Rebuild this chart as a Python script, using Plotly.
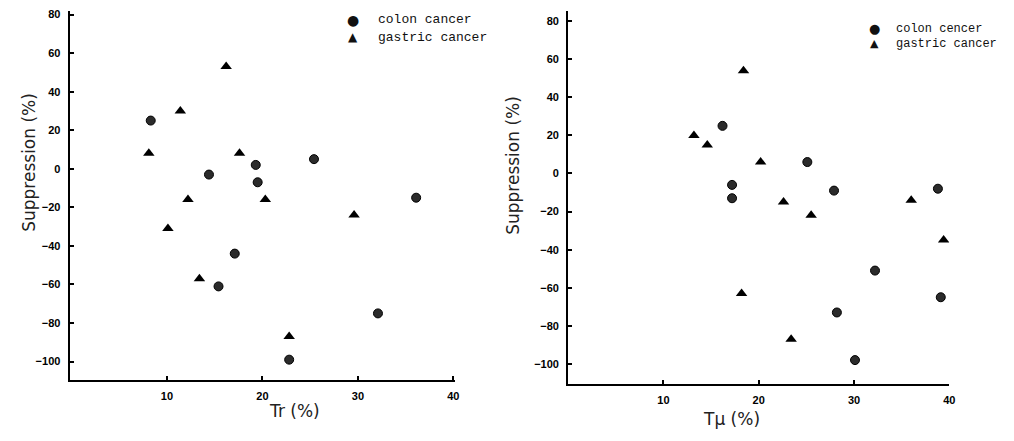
import plotly.graph_objects as go

# ---- data ----
# Left panel: Tr (%)
tr_colon_x = [8.3, 14.4, 19.3, 19.5, 25.4, 36.1, 17.1, 15.4, 32.1, 22.8]
tr_colon_y = [25, -3, 2, -7, 5, -15, -44, -61, -75, -99]
tr_gastric_x = [16.2, 11.4, 8.1, 17.6, 12.2, 20.3, 29.6, 10.1, 13.4, 22.8]
tr_gastric_y = [53, 30, 8, 8, -16, -16, -24, -31, -57, -87]

# Right panel: Tμ (%)
tm_colon_x = [16.2, 25.1, 17.2, 17.2, 27.9, 38.8, 32.2, 39.1, 28.2, 30.1]
tm_colon_y = [25, 6, -6, -13, -9, -8, -51, -65, -73, -98]
tm_gastric_x = [18.4, 13.2, 14.6, 20.2, 22.6, 25.5, 36.0, 39.4, 18.2, 23.4]
tm_gastric_y = [54, 20, 15, 6, -15, -22, -14, -35, -63, -87]

y_ticks = [80, 60, 40, 20, 0, -20, -40, -60, -80, -100]
x_ticks = [10, 20, 30, 40]

left_names = ["colon cancer", "gastric cancer"]
right_names = ["colon cencer", "gastric cancer"]
y_title = "Suppression (%)"
left_x_title = "Tr (%)"
right_x_title = "Tμ (%)"

W, H = 1014, 441

circle = dict(symbol="circle", size=9, color="#2b2b2b", line=dict(color="#000", width=1))
tri = dict(symbol="triangle-up", size=10, color="#000", line=dict(color="#000", width=0))

fig = go.Figure()
fig.add_trace(go.Scatter(x=tr_colon_x, y=tr_colon_y, mode="markers", marker=circle,
                         name=left_names[0], xaxis="x", yaxis="y"))
fig.add_trace(go.Scatter(x=tr_gastric_x, y=tr_gastric_y, mode="markers", marker=tri,
                         name=left_names[1], xaxis="x", yaxis="y"))
fig.add_trace(go.Scatter(x=tm_colon_x, y=tm_colon_y, mode="markers", marker=circle,
                         name=right_names[0], xaxis="x2", yaxis="y2"))
fig.add_trace(go.Scatter(x=tm_gastric_x, y=tm_gastric_y, mode="markers", marker=tri,
                         name=right_names[1], xaxis="x2", yaxis="y2"))

tickfont = dict(family="Liberation Sans", size=11, color="#000", weight="bold")
axis_common = dict(showgrid=False, zeroline=False, showline=True, linecolor="#000", linewidth=2,
                   ticks="inside", ticklen=4, tickwidth=1.5, tickcolor="#000",
                   tickfont=tickfont, ticklabelstandoff=5)

fig.update_layout(
    width=W, height=H, margin=dict(l=0, r=0, t=0, b=0),
    paper_bgcolor="white", plot_bgcolor="white", showlegend=False,
    xaxis=dict(domain=[70 / W, 458 / W], range=[-0.2, 40.2], anchor="y",
               tickvals=x_ticks, **axis_common),
    yaxis=dict(domain=[1 - 379.3 / H, 1 - 8.3 / H], range=[-109.4, 81.7], anchor="x",
               tickvals=y_ticks, **axis_common),
    xaxis2=dict(domain=[571.5 / W, 955 / W], range=[0, 40], anchor="y2",
                tickvals=x_ticks, **axis_common),
    yaxis2=dict(domain=[1 - 383.3 / H, 1 - 8.3 / H], range=[-110.4, 85.2], anchor="x2",
                tickvals=y_ticks, **axis_common),
)

title_font = dict(family="DejaVu Sans", size=17, color="#222")
annotations = [
    dict(text=y_title, x=17 / W, y=1 - 160 / H, xref="paper", yref="paper",
         textangle=-90, showarrow=False, font=title_font),
    dict(text=y_title, x=516 / W, y=1 - 163 / H, xref="paper", yref="paper",
         textangle=-90, showarrow=False, font=title_font),
    dict(text=left_x_title, x=269 / W, y=1 - 423 / H, xref="paper", yref="paper",
         showarrow=False, font=title_font),
    dict(text=right_x_title, x=767 / W, y=1 - 431 / H, xref="paper", yref="paper",
         showarrow=False, font=title_font),
]

# legends drawn as text
def legend_block(sym_x, text_x, ys, names, size, sym_sizes):
    out = []
    syms = ["●", "▲"]
    for s, ss, yy, nm in zip(syms, sym_sizes, ys, names):
        out.append(dict(text=s, x=sym_x / W, y=1 - yy / H, xref="paper", yref="paper",
                        xanchor="center", yanchor="middle", showarrow=False,
                        font=dict(family="DejaVu Sans", size=ss, color="#111")))
        out.append(dict(text=nm, x=text_x / W, y=1 - yy / H, xref="paper", yref="paper",
                        xanchor="left", yanchor="middle", showarrow=False,
                        font=dict(family="Liberation Mono", size=size, color="#111")))
    return out

annotations += legend_block(355, 378, [17, 34.5], left_names, 13, [14, 12])
annotations += legend_block(880, 899, [26, 41], right_names, 12, [13, 11])

fig.update_layout(annotations=annotations)

fig.write_html("out.html")
